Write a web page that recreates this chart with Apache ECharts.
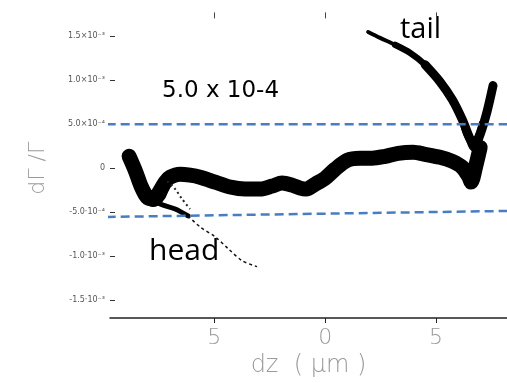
<!DOCTYPE html>
<html>
<head>
<meta charset="utf-8">
<script src="https://cdn.jsdelivr.net/npm/echarts@6/dist/echarts.min.js"></script>
<style>
  html, body { margin: 0; padding: 0; background: #fff; }
  #chart { width: 507px; height: 383px; }
</style>
</head>
<body>
<div id="chart"></div>
<script>
// dΓ/Γ versus dz; y values are in units of 1e-4
var xTicks = [-5, 0, 5];
var xTickLabels = ['5', '0', '5'];
var yTicks = [-15, -10, -5, 0, 5, 10, 15];
var yTickLabels = ['-1.5\u00b710\u207b\u00b3', '-1.0\u00b710\u207b\u00b3', '-5.0\u00b710\u207b\u2074', '0',
                   '5.0\u00d710\u207b\u2074', '1.0\u00d710\u207b\u00b3', '1.5\u00d710\u207b\u00b3'];

// main band (scan across the focus)
var mainX = [-8.84, -8.55, -8.30, -8.03, -7.75, -7.48, -7.21, -6.99, -6.54, -6.09, -5.64, -4.96, -4.28, -3.61,
             -2.93, -2.39, -1.94, -1.49, -1.13, -0.86, -0.45, 0, 0.45, 0.99, 1.58, 2.12, 2.71, 3.29, 3.97,
             4.51, 5.18, 5.73, 6.18, 6.49, 6.58, 6.81, 6.99];
var mainY = [1.35, -0.34, -2.03, -3.27, -3.50, -2.71, -1.58, -1.02, -0.68, -0.79, -1.02, -1.58, -2.14, -2.37,
             -2.37, -2.03, -1.69, -1.92, -2.26, -2.37, -1.81, -1.13, -0.11, 0.90, 1.13, 1.13, 1.35, 1.69, 1.81,
             1.58, 1.24, 0.79, 0.11, -1.02, -1.58, 0.45, 2.37];

// dense cluster at the head end of the band
var blobX = [-8.50, -8.16, -7.75, -7.44, -7.30];
var blobY = [-0.90, -2.48, -3.72, -3.05, -2.03];

// tail branch: sparse top, medium middle, dense lower part
var tailTopX = [1.94, 2.48, 3.16, 3.83];
var tailTopY = [15.46, 14.79, 14.0, 13.09];
var tailMidX = [3.16, 3.83, 4.51, 5.18];
var tailMidY = [14.0, 13.09, 11.74, 9.82];
var tailX = [4.51, 5.18, 5.73, 6.18, 6.54, 6.72, 6.99, 7.30, 7.57];
var tailY = [11.74, 9.82, 7.79, 5.53, 3.27, 2.37, 3.84, 6.43, 9.37];
// filled core of the turning point
var tailCoreX = [6.30, 6.60, 6.85, 7.10];
var tailCoreY = [4.60, 3.10, 3.30, 5.00];

// head branch: dense part and sparse trailing part
var headX = [-7.98, -7.44, -6.76, -6.18];
var headY = [-3.27, -4.06, -4.63, -5.42];
var headTrailX = [-6.18, -5.64, -4.96, -4.37, -3.74, -3.07];
var headTrailY = [-5.42, -6.66, -7.79, -9.14, -10.50, -11.17];
var headArmX = [-7.12, -6.76, -6.45, -6.09];
var headArmY = [-1.47, -2.37, -3.50, -4.63];

// reference levels
var refTopX = [-9.85, 8.2], refTopY = [5.0, 5.0];
var refBotX = [-9.85, 8.2], refBotY = [-5.53, -4.85];

function pairs(xs, ys) { return xs.map(function (x, i) { return [x, ys[i]]; }); }

var blue = '#4a7cc1';
var faint = '#9a9a9a';

var chart = echarts.init(document.getElementById('chart'));
chart.setOption({
  animation: false,
  backgroundColor: '#ffffff',
  grid: { left: 110, top: 18.4, width: 397, height: 301.2, containLabel: false },
  xAxis: [{
    type: 'value', min: -9.7, max: 8.2, position: 'bottom',
    name: 'dz  ( \u03bcm )', nameLocation: 'middle', nameGap: 36,
    nameTextStyle: { color: faint, fontSize: 24, fontWeight: 200, fontFamily: 'DejaVu Sans' },
    axisLine: { show: true, onZero: false, lineStyle: { color: '#222', width: 1.5 } },
    axisTick: { show: true, length: 5, inside: false, customValues: xTicks, lineStyle: { color: '#222' } },
    axisLabel: {
      customValues: xTicks, margin: 9, color: faint, fontSize: 22, fontWeight: 200, fontFamily: 'DejaVu Sans',
      formatter: function (v) { return xTickLabels[xTicks.indexOf(Math.round(v))]; }
    },
    splitLine: { show: false }
  }, {
    type: 'value', min: -9.7, max: 8.2, position: 'top',
    axisLine: { show: false, onZero: false },
    axisTick: { show: true, length: 6, customValues: xTicks, lineStyle: { color: '#444' } },
    axisLabel: { show: false },
    splitLine: { show: false }
  }],
  yAxis: {
    type: 'value', min: -17, max: 17,
    name: 'd\u0393 /\u0393', nameLocation: 'middle', nameGap: 61, nameRotate: 90,
    nameTextStyle: { color: faint, fontSize: 22, fontWeight: 200, fontFamily: 'DejaVu Sans' },
    axisLine: { show: false, onZero: false },
    axisTick: { show: true, length: 5, inside: true, customValues: yTicks, lineStyle: { color: '#333' } },
    axisLabel: {
      customValues: yTicks, margin: 5, color: '#555', fontSize: 8, fontFamily: 'DejaVu Sans',
      formatter: function (v) { return yTickLabels[yTicks.indexOf(Math.round(v))]; }
    },
    splitLine: { show: false }
  },
  series: [
    { type: 'line', data: pairs(refTopX, refTopY), symbol: 'none', clip: false, z: 5,
      lineStyle: { color: blue, width: 2.5, type: [9, 5] } },
    { type: 'line', data: pairs(refBotX, refBotY), symbol: 'none', clip: false, z: 5,
      lineStyle: { color: blue, width: 2.5, type: [9, 5] } },
    { type: 'line', data: pairs(mainX, mainY), symbol: 'none', smooth: 0.3,
      lineStyle: { color: '#000', width: 15, join: 'round', cap: 'round' } },
    { type: 'line', data: pairs(blobX, blobY), symbol: 'none', smooth: 0.3,
      lineStyle: { color: '#000', width: 12, join: 'round', cap: 'round' } },
    { type: 'line', data: pairs(tailTopX, tailTopY), symbol: 'none', smooth: 0.3,
      lineStyle: { color: '#000', width: 4, cap: 'round' } },
    { type: 'line', data: pairs(tailMidX, tailMidY), symbol: 'none', smooth: 0.3,
      lineStyle: { color: '#000', width: 6.5, cap: 'round' } },
    { type: 'line', data: pairs(tailX, tailY), symbol: 'none', smooth: 0.3,
      lineStyle: { color: '#000', width: 9, join: 'round', cap: 'round' } },
    { type: 'line', data: pairs(tailCoreX, tailCoreY), symbol: 'none', smooth: 0.3,
      lineStyle: { color: '#000', width: 8, join: 'round', cap: 'round' } },
    { type: 'line', data: pairs(headX, headY), symbol: 'none', smooth: 0.3,
      lineStyle: { color: '#000', width: 5, cap: 'round' } },
    { type: 'line', data: pairs(headTrailX, headTrailY), symbol: 'none', smooth: 0.3,
      lineStyle: { color: '#111', width: 1.5, type: [3, 3] } },
    { type: 'line', data: pairs(headArmX, headArmY), symbol: 'none', smooth: 0.3,
      lineStyle: { color: '#222', width: 2, type: [2, 3] } }
  ],
  graphic: [
    { type: 'text', left: 162, top: 80, style: { text: '5.0 x 10-4', fill: '#000', fontSize: 23, fontFamily: 'DejaVu Sans' } },
    { type: 'text', left: 400, top: 15, style: { text: 'tail', fill: '#000', fontSize: 29, fontFamily: 'Open Sans' } },
    { type: 'text', left: 149, top: 236, style: { text: 'head', fill: '#000', fontSize: 30, fontFamily: 'Open Sans' } }
  ]
});
</script>
</body>
</html>
